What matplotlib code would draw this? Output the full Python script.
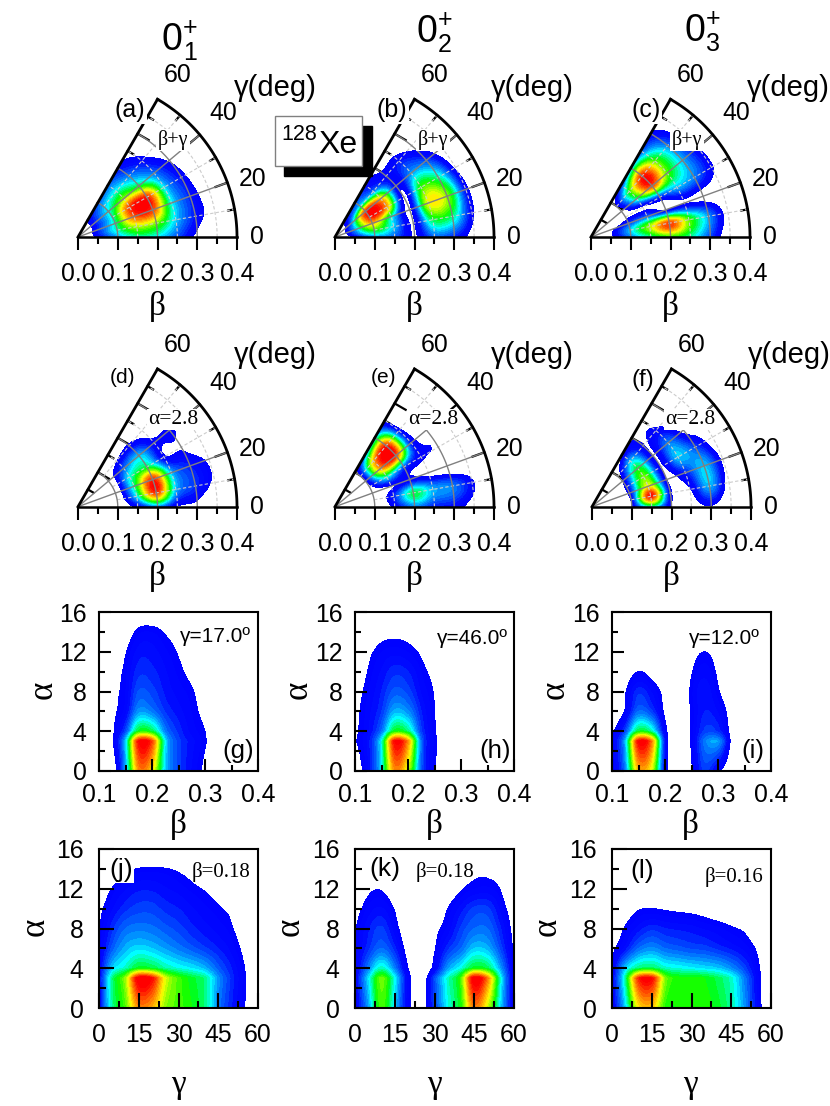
#!/usr/bin/env python3
# -*- coding: utf-8 -*-
import numpy as np
import matplotlib
matplotlib.use('Agg')
import matplotlib.pyplot as plt
from matplotlib.colors import LinearSegmentedColormap
from matplotlib.patches import Rectangle

plt.rcParams['font.family'] = ['Liberation Sans', 'DejaVu Sans']

# grids the values below were read on
wedge_beta = [0, .05, .10, .15, .20, .25, .30, .35, .40]
wedge_gamma = [0, 10, 20, 30, 40, 50, 60]
cut_beta = [.1, .125, .15, .175, .2, .225, .25, .275, .3, .325, .35, .375, .4]
cut_gamma = [0, 5, 10, 15, 20, 25, 30, 35, 40, 45, 50, 55, 60]
cut_alpha = [0, 3, 4, 6, 8, 10, 12, 14, 16]

# collective wave function, 0 = edge of the coloured area, 100 = maximum
panel_a = [[-30, 3, 25, 38, 32, 16, -5, -30, -50],
           [-30, 8, 38, 62, 58, 30, 8, -12, -40],
           [-30, 8, 40, 88, 92, 35, 10, -15, -40],
           [-30, 6, 38, 92, 95, 32, 6, -20, -40],
           [-30, 5, 35, 60, 45, 20, -2, -25, -40],
           [-30, 4, 28, 36, 22, 5, -15, -30, -40],
           [-30, 1, 16, 18, 6, -8, -25, -35, -40]]
panel_b = [[-30, 3, 22, 18, -1.2, 18, 10, -10, -40],
           [-30, 15, 50, 30, -1.2, 45, 42, 3, -30],
           [-30, 20, 75, 38, -3, 68, 60, 5, -25],
           [-30, 22, 95, 80, -3, 52, 40, -3, -30],
           [-30, 15, 92, 75, 3, 25, 15, -15, -35],
           [-30, 8, 35, 20, 4, 8, -8, -30, -40],
           [-30, 3, 12, 6, -6, -15, -30, -40, -40]]
panel_c = [[-30, -4, 22, 40, 50, 40, 15, -15, -40],
           [-30, -3, 30, 62, 92, 55, 25, -8, -35],
           [-30, -8, 12, 18, -0.5, -1, -6, -15, -40],
           [-30, -30, -6, -2, 10, 28, 22, 2, -30],
           [-30, -25, -8, 40, 90, 55, 28, 0, -30],
           [-30, -20, -2, 50, 95, 55, 22, -10, -35],
           [-30, -20, -8, 10, 25, 15, 3, -15, -35]]
panel_d = [[-30, -30, -15, 3, 20, -1, -6, -30, -40],
           [-30, -30, -15, 32, 92, 28, 12, -5, -35],
           [-30, -30, -15, 40, 95, 28, 10, -4, -35],
           [-30, -25, -15, 35, 45, 2, -2, -20, -40],
           [-30, -20, -10, 18, 30, 3, 1, -10, -40],
           [-30, -20, -10, -1, 2, -8, -15, -30, -40],
           [-30, -30, -15, -6, -8, -15, -25, -35, -40]]
panel_e = [[-30, -30, -15, 3, 22, 10, 6, -10, -40],
           [-30, -30, -15, 10, 45, 28, 22, 3, -30],
           [-30, -30, -12, -1, 3, -6, -15, -25, -40],
           [-30, -25, -4, 35, 15, 2, -3, -25, -40],
           [-30, -25, -2, 80, 92, 8, -5, -20, -40],
           [-30, -20, 0, 75, 95, 5, -15, -30, -40],
           [-30, -25, -6, 20, 30, -3, -25, -35, -40]]
panel_f = [[-30, -30, 1, 35, -1, -6, -2, -20, -40],
           [-30, -25, 1, 98, 3, -1, 28, -8, -30],
           [-30, -25, 3, 70, -0.5, 10, 30, -4, -30],
           [-30, -20, 3, 58, -0.5, 30, 15, -12, -30],
           [-30, -15, -1, 48, -0.5, 22, -5, -15, -35],
           [-30, -25, -8, 28, 0.5, 3, -15, -25, -40],
           [-30, -30, -15, -4, -0.5, -6, -25, -35, -40]]
panel_g = [[-30, -10, 25, 82, 72, 30, 15, 6, -3, -15, -30, -40, -40],
           [-30, -2, 30, 100, 92, 33, 15, 8, 1, -10, -30, -40, -40],
           [-30, -3, 15, 48, 45, 22, 12, 5, 0, -12, -30, -40, -40],
           [-30, -4, 5, 25, 22, 13, 8, 3, -4, -15, -30, -40, -40],
           [-30, -5, 3, 17, 15, 9, 5, 1, -8, -20, -30, -40, -40],
           [-30, -8, 2, 12, 11, 7, 2, -4, -15, -25, -30, -40, -40],
           [-30, -15, -1, 8, 8, 4, -1, -8, -20, -30, -35, -40, -40],
           [-30, -25, -8, 2, 3, -1, -6, -15, -30, -35, -40, -40, -40],
           [-30, -25, -15, -10, -10, -10, -15, -25, -35, -40, -40, -40, -40]]
panel_h = [[-6, 6, 32, 82, 64, 18, 1, -10, -30, -40, -40, -40, -40],
           [-1, 8, 35, 100, 82, 20, 2, -10, -30, -40, -40, -40, -40],
           [-2, 6, 20, 48, 42, 14, 1, -10, -30, -40, -40, -40, -40],
           [-3, 5, 13, 28, 24, 10, 0, -12, -30, -40, -40, -40, -40],
           [-5, 3, 10, 18, 15, 6, -1, -15, -30, -40, -40, -40, -40],
           [-10, 0.5, 7, 12, 10, 3, -5, -20, -30, -40, -40, -40, -40],
           [-15, -3, 3, 5, 3, -2, -12, -25, -35, -40, -40, -40, -40],
           [-20, -10, -5, -4, -5, -10, -20, -30, -40, -40, -40, -40, -40],
           [-25, -20, -20, -20, -20, -20, -25, -35, -40, -40, -40, -40, -40]]
panel_i = [[-2, 22, 76, 66, 5, -8, -1, 14, 2, -10, -30, -40, -40],
           [2, 28, 100, 85, 8, -8, 1, 22, 26, -2, -25, -40, -40],
           [-3, 15, 46, 38, 3, -10, 1, 14, 12, -4, -25, -40, -40],
           [-10, 1, 20, 14, -2, -12, 1, 10, 6, -6, -30, -40, -40],
           [-15, -1, 12, 6, -4, -15, 2, 9, 1, -10, -30, -40, -40],
           [-25, -8, 0, -4, -12, -20, -1, 5, -2, -15, -40, -40, -40],
           [-30, -15, -8, -10, -20, -25, -6, 0, -6, -20, -40, -40, -40],
           [-30, -25, -20, -20, -25, -30, -15, -10, -15, -30, -40, -40, -40],
           [-30, -30, -30, -30, -30, -30, -30, -25, -30, -35, -40, -40, -40]]
panel_j = [[1, 40, 55, 82, 78, 60, 55, 50, 42, 22, 10, 0, -15],
           [5, 42, 62, 105, 100, 68, 55, 48, 42, 25, 12, 1, -15],
           [3, 30, 38, 48, 46, 40, 36, 33, 28, 18, 10, 0, -15],
           [1, 18, 28, 32, 30, 26, 22, 18, 14, 10, 5, -4, -20],
           [-1, 12, 20, 22, 21, 18, 15, 11, 8, 5, 1, -10, -25],
           [-3, 6, 12, 15, 15, 12, 10, 7, 4, 1, -4, -20, -30],
           [-10, 0.5, 6, 9, 9, 7, 5, 2, -1, -6, -15, -25, -35],
           [-20, -12, -3, 0.5, 1, 0.5, -2, -6, -12, -18, -25, -30, -40],
           [-25, -25, -20, -20, -20, -20, -20, -25, -30, -30, -35, -40, -40]]
panel_k = [[1, 25, 55, 30, 3, -6, 14, 35, 50, 84, 64, 30, -1],
           [3, 32, 58, 35, 4, -8, 16, 38, 55, 105, 85, 35, -1],
           [1, 22, 38, 22, 0, -10, 3, 25, 36, 48, 45, 25, -1],
           [0, 12, 20, 11, -5, -15, -1, 12, 20, 30, 28, 15, -2],
           [-1, 9, 14, 4, -10, -20, -4, 4, 14, 20, 20, 10, -4],
           [-5, 4, 7, -1, -18, -25, -12, 0, 8, 14, 14, 5, -8],
           [-15, -3, -1, -10, -25, -30, -20, -10, -1, 3, 4, -1, -20],
           [-25, -15, -12, -20, -30, -35, -30, -20, -10, -5, -5, -10, -30],
           [-25, -25, -25, -25, -35, -35, -35, -25, -25, -25, -25, -25, -30]]
panel_l = [[1, 30, 70, 75, 52, 50, 52, 52, 48, 40, 25, 5, -15],
           [3, 40, 95, 100, 60, 52, 52, 50, 45, 38, 22, 4, -15],
           [0.5, 30, 42, 44, 38, 36, 34, 32, 30, 24, 15, 2, -12],
           [-3, 8, 20, 24, 20, 18, 16, 15, 12, 9, 5, -2, -15],
           [-10, 1, 8, 12, 10, 9, 8, 6, 4, 1, -2, -10, -25],
           [-20, -8, -1, 0, -1, -2, -3, -5, -8, -10, -15, -20, -30],
           [-30, -20, -15, -12, -12, -12, -14, -16, -18, -20, -25, -30, -35],
           [-35, -35, -35, -35, -35, -35, -35, -35, -35, -35, -35, -35, -35],
           [-35, -35, -35, -35, -35, -35, -35, -35, -35, -35, -35, -35, -35]]

W = 830.
H = 1106.
cmap = LinearSegmentedColormap.from_list('wave', [(0, '#0000ff'), (.08, '#0008ff'), (.25, '#0090ff'),
                                                  (.35, '#00ffff'), (.5, '#00ff00'), (.7, '#ffff00'),
                                                  (.85, '#ff8000'), (1, '#ff0000')])
levels = np.linspace(0, 100, 31)
gray = '#808080'
dash = '#cccccc'
BIG = 17.8
NSUB = 10


def smooth(y):
    # catmull-rom through the table values of one line
    y = np.asarray(y, float)
    m = np.gradient(y)
    t = np.arange(NSUB) / NSUB
    a = 2 * t**3 - 3 * t**2 + 1
    b = t**3 - 2 * t**2 + t
    c = -2 * t**3 + 3 * t**2
    d = t**3 - t**2
    seg = [a * y[i] + b * m[i] + c * y[i + 1] + d * m[i + 1] for i in range(len(y) - 1)]
    return np.append(np.concatenate(seg), y[-1])


def fine_pos(v):
    idx = np.arange(len(v))
    return np.interp(np.linspace(0, len(v) - 1, (len(v) - 1) * NSUB + 1), idx, v)


def fine_wedge(z):
    rows = np.array([smooth(r) for r in z])
    return np.array([smooth(c) for c in rows.T]).T


def fine_cut(z):
    # bends sharply at alpha 3 and 4: straight up to there, smooth above
    rows = np.array([smooth(r) for r in z])
    top = np.array([smooth(c) for c in rows[2:].T]).T
    t = np.linspace(0, 1, NSUB + 1)[:, None]
    low = rows[0] * (1 - t) + rows[1] * t
    mid = rows[1] * (1 - t[1:]) + rows[2] * t[1:]
    return np.vstack([low, mid, top[1:]])


def fine_alpha():
    t = np.linspace(0, 1, NSUB + 1)
    return np.concatenate([cut_alpha[0] + t * 3, 3 + t[1:], fine_pos(cut_alpha[2:])[1:]])


def label(x, y, s, size=BIG, fam=None, box=False, **kw):
    if fam:
        kw['family'] = fam
    if box:
        kw['bbox'] = dict(fc='white', ec='none', pad=1)
    return fig.text(x / W, 1 - y / H, s, fontsize=size, ha='center', va='center', **kw)


def wedge(x0, y0, z, tag, tag_size, note, row, short=False):
    ax = fig.add_axes([x0 / W, 1 - y0 / H, 159 / W, 137.7 / H])
    ax.set_xlim(0, .4)
    ax.set_ylim(0, .4 * np.sin(np.pi / 3))
    ax.patch.set_visible(False)
    for s in ['top', 'right', 'left']:
        ax.spines[s].set_visible(False)
    ax.spines['bottom'].set_linewidth(1.8)
    ax.spines['bottom'].set_zorder(8)

    b, g = np.meshgrid(fine_pos(wedge_beta), np.radians(fine_pos(wedge_gamma)))
    ax.contourf(b * np.cos(g), b * np.sin(g), fine_wedge(z), levels=levels, cmap=cmap, extend='max', zorder=3)
    t = np.radians(np.linspace(0, 60, 121))

    # ticks on the arc and on the 60 deg side sit under the colours
    for d in [10, 20, 30, 40, 50]:
        a = np.radians(d)
        ln = .032 if d % 20 == 0 else .016
        ax.plot([(.4 - ln) * np.cos(a), .4 * np.cos(a)], [(.4 - ln) * np.sin(a), .4 * np.sin(a)],
                color='k', lw=1.6, zorder=2, clip_on=False)
    a = np.radians(60)
    for r in [.05, .1, .15, .2, .25, .3, .35]:
        ln = .032 if abs(r * 10 - round(r * 10)) < 1e-6 else .016
        c = np.array([r * np.cos(a), r * np.sin(a)])
        ax.plot([c[0], c[0] + ln * np.sin(a)], [c[1], c[1] - ln * np.cos(a)], color='k', lw=1.6, zorder=2)

    for r in [.15, .25, .35]:
        ax.plot(r * np.cos(t), r * np.sin(t), color=dash, lw=.8, ls=(0, (3, 2)), zorder=4)
    for d in [10, 30, 50]:
        a = np.radians(d)
        ax.plot([.1 * np.cos(a), .4 * np.cos(a)], [.1 * np.sin(a), .4 * np.sin(a)],
                color=dash, lw=.8, ls=(0, (3, 2)), zorder=4)
    for r in [.1, .2, .3]:
        tt = t[t <= np.radians(40)] if short and r == .3 else t
        ax.plot(r * np.cos(tt), r * np.sin(tt), color=gray, lw=1, zorder=5)
    for d in [20, 40]:
        a = np.radians(d)
        r = .3 if short and d == 40 else .4
        ax.plot([0, r * np.cos(a)], [0, r * np.sin(a)], color=gray, lw=1, zorder=5)

    a = np.radians(60)
    ax.plot([0, .4 * np.cos(a)], [0, .4 * np.sin(a)], color='k', lw=2, zorder=7, clip_on=False)
    ax.plot(.4 * np.cos(t), .4 * np.sin(t), color='k', lw=2, zorder=7, clip_on=False)

    ax.set_yticks([])
    ax.set_xticks([0, .1, .2, .3, .4])
    ax.set_xticks([.05, .15, .25, .35], minor=True)
    ax.set_xticklabels(['0.0', '0.1', '0.2', '0.3', '0.4'])
    ax.tick_params(axis='x', which='major', length=9.5, width=1.5, labelsize=BIG, pad=8.5)
    ax.tick_params(axis='x', which='minor', length=4.7, width=1.5)

    label(x0 + 100, y0 - 162, '60')
    label(x0 + 197, y0 - 149 - (row - 1) * 3, '\u03b3(deg)', size=21)
    label(x0 + 145, y0 - 124, '40')
    label(x0 + 175, y0 - 58, '20')
    label(x0 + 179, y0, '0')
    label(x0 + 79, y0 + 70, '\u03b2', size=24, fam='Liberation Serif')
    label(x0 + tag[1], y0 - tag[2], tag[0], size=tag_size, box=True)
    label(x0 + note[1], y0 - note[2], note[0], size=note[3], fam='Liberation Serif', box=True)


def cut(x0, y0, xs, z, xmaj, xmin, xfmt, ln, pad):
    ax = fig.add_axes([x0 / W, 1 - y0 / H, 159 / W, 159 / H])
    ax.set_xlim(xs[0], xs[-1])
    ax.set_ylim(0, 16)
    ax.contourf(fine_pos(xs), fine_alpha(), fine_cut(z), levels=levels, cmap=cmap, extend='max')
    for s in ax.spines.values():
        s.set_linewidth(1.5)
    ax.set_xticks(xmaj)
    ax.set_xticklabels(xfmt)
    ax.set_xticks(xmin, minor=True)
    ax.set_yticks([0, 4, 8, 12, 16])
    ax.set_yticks([2, 6, 10, 14], minor=True)
    ax.tick_params(which='major', direction='in', length=ln, width=1.5, labelsize=BIG, pad=pad)
    ax.tick_params(which='minor', direction='in', length=ln / 2, width=1.5)
    ax.set_axisbelow(False)


fig = plt.figure(figsize=(8.3, 11.06), dpi=100)

wedge(78, 237, panel_a, ('(a)', 52, 127), 18, ('\u03b2+\u03b3', 95, 97, 14.5), 1)
wedge(335, 237, panel_b, ('(b)', 57, 127), 18, ('\u03b2+\u03b3', 98, 97, 14.5), 1)
wedge(591, 237, panel_c, ('(c)', 55, 127), 18, ('\u03b2+\u03b3', 96, 97, 14.5), 1)
wedge(78, 506.7, panel_d, ('(d)', 44, 129), 15, ('\u03b1=2.8', 95, 87, 15.5), 2)
wedge(335, 506.7, panel_e, ('(e)', 48, 129), 15, ('\u03b1=2.8', 98, 87, 15.5), 2, short=True)
wedge(592, 506.7, panel_f, ('(f)', 51, 127), 17.5, ('\u03b1=2.8', 98, 87, 15.5), 2)

beta_ticks = [.1, .2, .3, .4]
beta_minor = [.15, .25, .35]
beta_names = ['0.1', '0.2', '0.3', '0.4']
gamma_ticks = [0, 15, 30, 45, 60]
gamma_minor = [7.5, 22.5, 37.5, 52.5]
gamma_names = ['0', '15', '30', '45', '60']

cut(99, 771, cut_beta, panel_g, beta_ticks, beta_minor, beta_names, 8.5, 9)
cut(355, 771, cut_beta, panel_h, beta_ticks, beta_minor, beta_names, 8.5, 9)
cut(612, 771, cut_beta, panel_i, beta_ticks, beta_minor, beta_names, 8.5, 9)
cut(99, 1008, cut_gamma, panel_j, gamma_ticks, gamma_minor, gamma_names, 10.5, 11)
cut(355, 1008, cut_gamma, panel_k, gamma_ticks, gamma_minor, gamma_names, 10.5, 11)
cut(612, 1008, cut_gamma, panel_l, gamma_ticks, gamma_minor, gamma_names, 10.5, 11)

for x in [178, 434, 690]:
    label(x, 825, '\u03b2', size=24, fam='Liberation Serif')
    label(x, 1085, '\u03b3', size=24, fam='Liberation Serif')
for x in [43, 298, 555]:
    label(x, 690, '\u03b1', size=25, fam='Liberation Serif', rotation=90)
    label(x - 8, 927, '\u03b1', size=25, fam='Liberation Serif', rotation=90)

label(215, 637, '\u03b3=17.0\u00ba', size=15)
label(472, 638, '\u03b3=46.0\u00ba', size=15)
label(724, 638, '\u03b3=12.0\u00ba', size=15)
label(238, 751, '(g)', size=18.5)
label(495, 751, '(h)', size=18.5)
label(753, 751, '(i)', size=18.5)
label(221, 872, '\u03b2=0.18', size=15, fam='Liberation Serif')
label(445, 872, '\u03b2=0.18', size=15, fam='Liberation Serif')
label(734, 877, '\u03b2=0.16', size=15, fam='Liberation Serif')
label(121, 870, '(j)', size=19, box=True)
label(385, 869, '(k)', size=19, box=True)
label(642, 871, '(l)', size=19, box=True)

# titles
for x, y, s in [(172, 40, '1'), (427, 32, '2'), (695, 31, '3')]:
    label(x, y, '0', size=27)
    label(x + 18, y + 13, s, size=18)
    label(x + 18, y - 12, '+', size=18)

# nucleus box
fig.add_artist(Rectangle((284 / W, 1 - 176 / H), 88 / W, 50 / H, transform=fig.transFigure,
                         fc='k', ec='k', zorder=1))
fig.add_artist(Rectangle((275 / W, 1 - 166 / H), 87 / W, 50 / H, transform=fig.transFigure,
                         fc='white', ec=gray, lw=1, zorder=1))
label(299, 134, '128', size=15.5)
label(338, 145, 'Xe', size=23)

plt.savefig('out.png', dpi=100)
